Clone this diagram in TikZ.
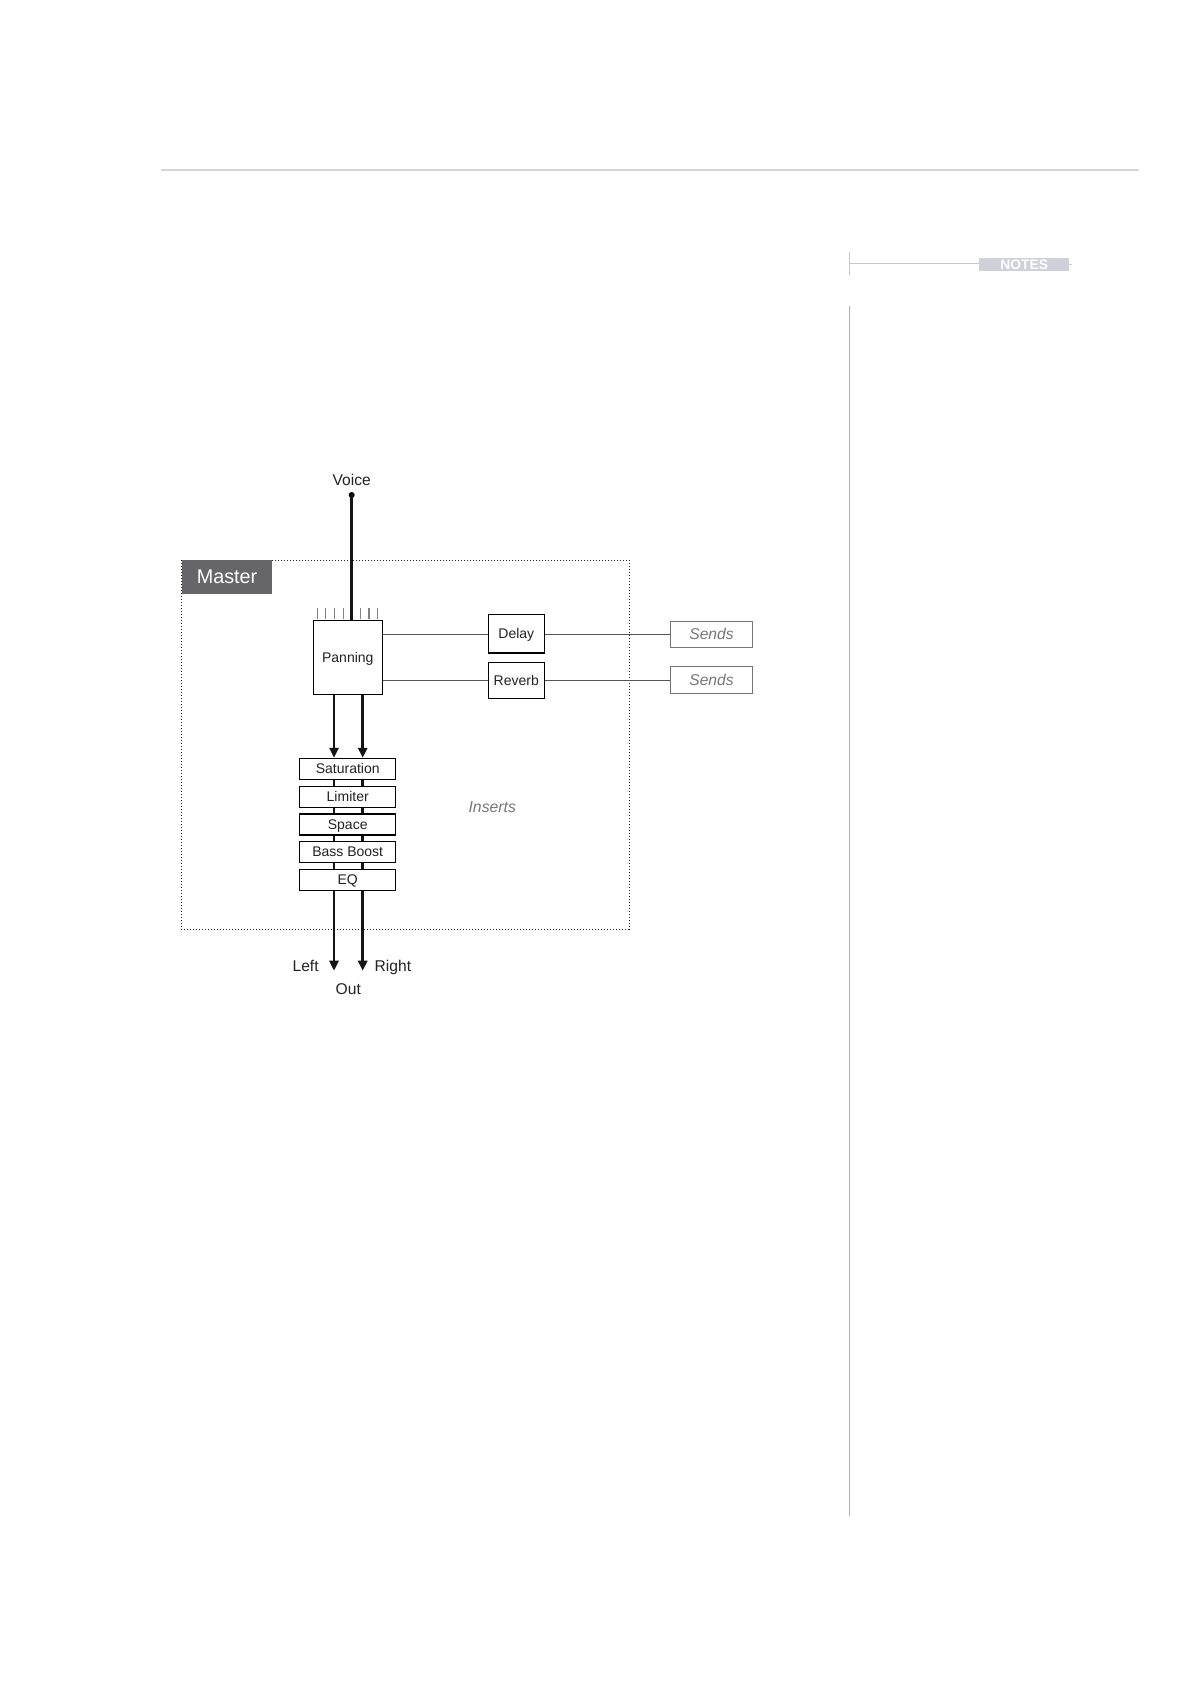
\documentclass[tikz,border=0pt]{standalone}
\usepackage{fontspec}
\setmainfont{Liberation Sans}
\usetikzlibrary{arrows.meta,calc}
\definecolor{rulegray}{RGB}{214,214,214}
\definecolor{sidegray}{RGB}{176,176,176}
\definecolor{notesgray}{RGB}{208,208,218}
\definecolor{mastergray}{RGB}{102,102,104}
\definecolor{textdark}{RGB}{34,34,34}
\definecolor{softgray}{RGB}{118,118,118}
\definecolor{wiregray}{RGB}{85,85,85}
\definecolor{tickgray}{RGB}{130,130,130}
\tikzset{
  fxbox/.style={draw=black, line width=0.55pt, fill=white, inner sep=0pt, text=textdark,
    font=\fontsize{7}{8}\selectfont, text height=5pt, text depth=0pt},
  insbox/.style={fxbox, minimum width=48pt, minimum height=10.5pt},
  sendbox/.style={draw=softgray, line width=0.5pt, inner sep=0pt, text=softgray,
    font=\fontsize{7.8}{9}\selectfont\itshape, minimum width=41.2pt, minimum height=13.2pt,
    text height=5.6pt, text depth=0pt},
  lbl/.style={inner sep=0pt, text=textdark, font=\fontsize{7.8}{9}\selectfont},
  sig/.style={line width=1.3pt, draw=black!92},
  sigarrow/.style={sig, -{Triangle[width=4.6pt,length=5pt]}},
  wire/.style={line width=0.5pt, draw=wiregray},
  tick/.style={line width=0.45pt, draw=tickgray},
  frame/.style={line width=0.5pt, draw=black!85, dash pattern=on 0.5pt off 1pt},
}
\begin{document}
\begin{tikzpicture}[x=0.5pt, y=-0.5pt]
\useasboundingbox (0,0) rectangle (1191,1684);
% page furniture
\draw[rulegray, line width=1pt] (161,170.3) -- (1139,170.3);
\draw[sidegray!70, line width=0.6pt] (849.4,252) -- (849.4,275);
\draw[sidegray!70, line width=0.6pt] (849.4,263.3) -- (979,263.3);
\node[fill=notesgray, minimum width=44.8pt, minimum height=6.7pt, inner sep=0pt,
  text=white, font=\fontsize{6.9}{7}\selectfont\bfseries, anchor=north west] (notes) at (979,257.3) {NOTES};
\draw[notesgray, line width=0.5pt] (notes.east) -- ++(3,0);
\draw[sidegray, line width=0.75pt] (849.4,305.7) -- (849.4,1515.7);

% master frame
\draw[frame] (181.3,560) rectangle (629,929.3);
\node[fill=mastergray, minimum width=45.35pt, minimum height=16.65pt, inner sep=0pt,
  anchor=north west, text=white, font=\fontsize{9.9}{11}\selectfont] (master) at (181.3,560) {Master};

% voice
\node[lbl] (voice) at (351.7,480) {Voice};
\coordinate (vdot) at (351.7,495);
\fill[black] (vdot) circle (1.5pt);

% panning
\node[fxbox, minimum width=34.5pt, minimum height=37pt] (pan) at (347.8,657.5) {Panning};
\draw[sig] (vdot) -- (vdot |- pan.north);
\foreach \tx in {317.3,325.7,334.3,343,360,377.3}
  \draw[tick] (\tx,608.3) -- (\tx,619);
\draw[tick, line width=0.8pt] (368.7,608.3) -- (368.7,619);

% sends
\node[fxbox, minimum width=28pt, minimum height=19pt] (delay) at (516.3,633.4) {Delay};
\draw[black, line width=1pt] (delay.south west) -- (delay.south east);
\node[fxbox, minimum width=28pt, minimum height=18pt] (reverb) at (516.3,680.3) {Reverb};
\node[sendbox] (send1) at (711.5,634.3) {Sends};
\node[sendbox, minimum height=13.6pt] (send2) at (711.5,679.7) {Sends};
\coordinate (yA) at (0,634.8);
\coordinate (yB) at (0,680.2);
\draw[wire] (pan.east |- yA) -- (delay.west |- yA);
\draw[wire] (delay.east |- yA) -- (send1.west |- yA);
\draw[wire] (pan.east |- yB) -- (reverb.west |- yB);
\draw[wire] (reverb.east |- yB) -- (send2.west |- yB);

% inserts
\node[insbox] (sat) at (347.7,768.8) {Saturation};
\node[insbox] (lim) at (347.7,796.8) {Limiter};
\node[insbox] (spc) at (347.7,824.5) {Space};
\node[insbox] (bass) at (347.7,851.8) {Bass Boost};
\node[insbox] (eq) at (347.7,879.8) {EQ};
\node[inner sep=0pt, text=softgray, font=\fontsize{7.9}{9}\selectfont\itshape] (ins) at (492.3,806.7) {Inserts};

\coordinate (cL) at (334,0);
\coordinate (cR) at (362.7,0);
\draw[sigarrow] (pan.south -| cL) -- (sat.north -| cL);
\draw[sigarrow] (pan.south -| cR) -- (sat.north -| cR);
\foreach \a/\b in {sat/lim, lim/spc, spc/bass, bass/eq}{
  \draw[sig] (\a.south -| cL) -- (\b.north -| cL);
  \draw[sig] (\a.south -| cR) -- (\b.north -| cR);
}
\coordinate (outL) at (334,970.7);
\coordinate (outR) at (362.7,970.7);
\draw[sigarrow] (eq.south -| cL) -- (outL);
\draw[sigarrow] (eq.south -| cR) -- (outR);

\node[lbl, anchor=base east] (left) at (319,971.5) {Left};
\node[lbl, anchor=base west] (right) at (374.3,971.5) {Right};
\node[lbl] (out) at (348.3,989.3) {Out};
\end{tikzpicture}
\end{document}
